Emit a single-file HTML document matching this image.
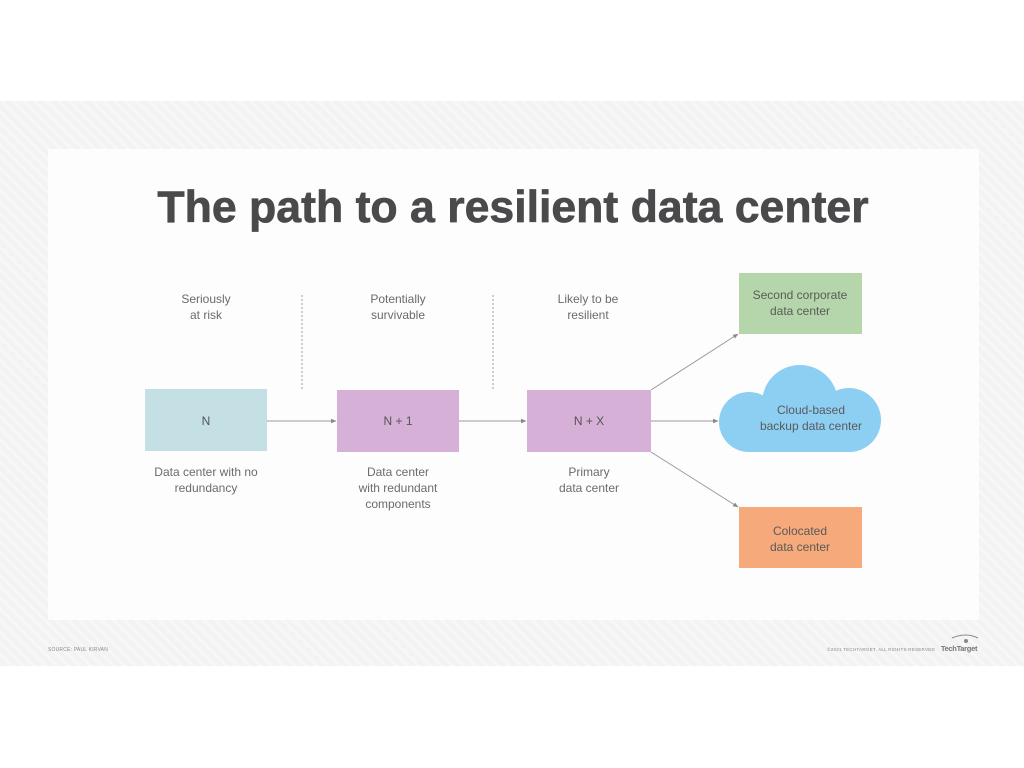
<!DOCTYPE html>
<html>
<head>
<meta charset="utf-8">
<style>
  html,body{margin:0;padding:0;background:#ffffff;}
  body{width:1024px;height:768px;overflow:hidden;position:relative;}
  svg{position:absolute;left:0;top:0;}
  text{font-family:"Liberation Sans",sans-serif;}
</style>
</head>
<body>
<svg width="1024" height="768" viewBox="0 0 1024 768" xmlns="http://www.w3.org/2000/svg">
  <defs>
    <pattern id="hatch" patternUnits="userSpaceOnUse" width="8" height="8" patternTransform="rotate(-45)">
      <rect width="8" height="8" fill="#f3f3f3"/>
      <rect width="3" height="8" fill="#f7f7f7"/>
    </pattern>
    <marker id="ah" markerWidth="6" markerHeight="6" refX="5" refY="3" orient="auto" markerUnits="userSpaceOnUse">
      <path d="M0,0.8 L5.5,3 L0,5.2 Z" fill="#8a8a8a"/>
    </marker>
  </defs>

  <!-- background band -->
  <rect x="0" y="101" width="1024" height="565" fill="url(#hatch)"/>
  <!-- inner panel -->
  <rect x="48" y="149" width="931" height="471" fill="#fdfdfd"/>

  <!-- title -->
  <text x="513" y="222" text-anchor="middle" font-size="44.6" font-weight="bold" fill="#4a4a4c" stroke="#4a4a4c" stroke-width="0.7">The path to a resilient data center</text>

  <!-- top labels -->
  <g font-size="12" fill="#6b6b6b" text-anchor="middle">
    <text x="206" y="303">Seriously</text>
    <text x="206" y="319">at risk</text>
    <text x="398" y="303">Potentially</text>
    <text x="398" y="319">survivable</text>
    <text x="588" y="303">Likely to be</text>
    <text x="588" y="319">resilient</text>
  </g>

  <!-- dotted separators -->
  <line x1="302" y1="295" x2="302" y2="389" stroke="#9a9a9a" stroke-width="1" stroke-dasharray="2,2"/>
  <line x1="493" y1="295" x2="493" y2="389" stroke="#9a9a9a" stroke-width="1" stroke-dasharray="2,2"/>

  <!-- boxes -->
  <rect x="145" y="389" width="122" height="62" fill="#c4e0e5"/>
  <rect x="337" y="390" width="122" height="62" fill="#d6b0d6"/>
  <rect x="527" y="390" width="124" height="62" fill="#d6b0d6"/>
  <rect x="739" y="273" width="123" height="61" fill="#b4d6aa"/>
  <rect x="739" y="507" width="123" height="61" fill="#f6a97a"/>

  <!-- cloud -->
  <g fill="#8ccff2">
    <circle cx="749" cy="422" r="30"/>
    <circle cx="800" cy="403" r="38"/>
    <circle cx="849" cy="420" r="32"/>
    <rect x="749" y="410" width="100" height="42"/>
  </g>

  <!-- box labels -->
  <g font-size="12" fill="#555" text-anchor="middle">
    <text x="206" y="425">N</text>
    <text x="398" y="425">N + 1</text>
    <text x="589" y="425">N + X</text>
  </g>
  <g font-size="12" fill="#5a5a5a" text-anchor="middle">
    <text x="800" y="299">Second corporate</text>
    <text x="800" y="315">data center</text>
    <text x="811" y="414">Cloud-based</text>
    <text x="811" y="430">backup data center</text>
    <text x="800" y="535">Colocated</text>
    <text x="800" y="551">data center</text>
  </g>

  <!-- bottom labels -->
  <g font-size="12" fill="#6b6b6b" text-anchor="middle">
    <text x="206" y="476">Data center with no</text>
    <text x="206" y="492">redundancy</text>
    <text x="398" y="476">Data center</text>
    <text x="398" y="492">with redundant</text>
    <text x="398" y="508">components</text>
    <text x="589" y="476">Primary</text>
    <text x="589" y="492">data center</text>
  </g>

  <!-- connectors -->
  <g stroke="#9a9a9a" stroke-width="1" fill="none" marker-end="url(#ah)">
    <line x1="267" y1="421" x2="336" y2="421"/>
    <line x1="459" y1="421" x2="526" y2="421"/>
    <line x1="651" y1="421" x2="718" y2="421"/>
    <line x1="651" y1="390" x2="738" y2="334"/>
    <line x1="651" y1="452" x2="738" y2="507"/>
  </g>

  <!-- footer -->
  <text x="48" y="651" font-size="5" fill="#8a8a8a" letter-spacing="0.2">SOURCE: PAUL KIRVAN</text>
  <text x="935" y="651" font-size="4.6" fill="#8a8a8a" text-anchor="end" letter-spacing="0.2">©2021 TECHTARGET. ALL RIGHTS RESERVED</text>
  <text x="959" y="651" font-size="7.5" font-weight="bold" fill="#777" text-anchor="middle" letter-spacing="-0.3">TechTarget</text>
  <path d="M952,638 Q966,632 978,638" stroke="#888" stroke-width="1" fill="none"/>
  <circle cx="966" cy="641" r="2" fill="#888"/>
</svg>
</body>
</html>
